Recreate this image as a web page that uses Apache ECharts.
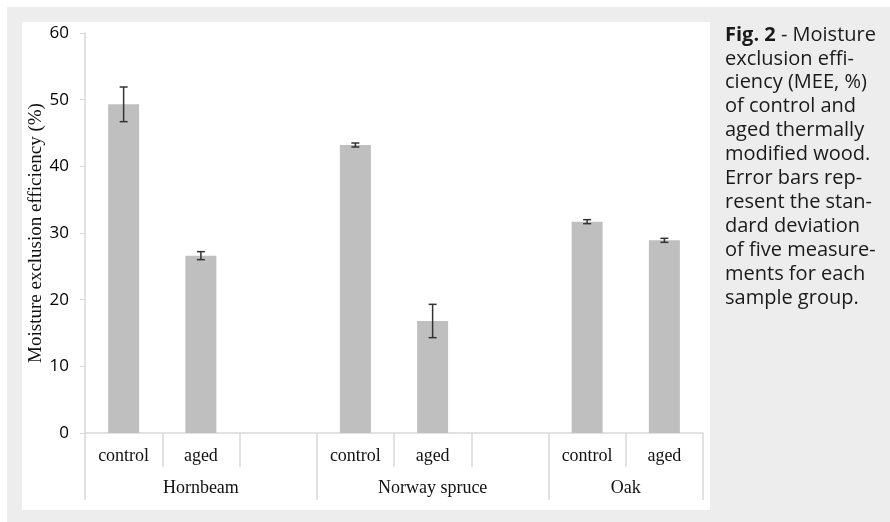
<!DOCTYPE html>
<html>
<head>
<meta charset="utf-8">
<script src="https://cdn.jsdelivr.net/npm/echarts@6/dist/echarts.min.js"></script>
<style>
  html, body { margin: 0; padding: 0; background: #fff; }
  #main { width: 890px; height: 522px; }
</style>
</head>
<body>
<div id="main"></div>
<script>
// data
var categories = ['control', 'aged', '', 'control', 'aged', '', 'control', 'aged'];
var groups = ['Hornbeam', 'Norway spruce', 'Oak'];
var groupCenters = [1.5, 4.5, 7];          // in slot units on the 0..8 axis
var groupBounds = [0, 3, 6, 8];
var mee = [49.3, 26.6, null, 43.2, 16.8, null, 31.7, 28.9];
var sd = [2.6, 0.6, null, 0.3, 2.5, null, 0.3, 0.3];
var yTicks = [0, 10, 20, 30, 40, 50, 60];

var captionLines = [
    '{b|Fig. 2} - Moisture',
    'exclusion effi-',
    'ciency (MEE, %)',
    'of control and',
    'aged thermally',
    'modified wood.',
    'Error bars rep-',
    'resent the stan-',
    'dard deviation',
    'of five measure-',
    'ments for each',
    'sample group.'
];

var errData = [];
mee.forEach(function (v, i) {
    if (v != null) errData.push([i, v - sd[i], v + sd[i]]);
});

var myChart = echarts.init(document.getElementById('main'));

myChart.setOption({
    backgroundColor: '#fff',
    animation: false,
    graphic: [
        { type: 'rect', z: -10, shape: { x: 7, y: 7, width: 883, height: 515 }, style: { fill: '#ededed' } },
        { type: 'rect', z: -9, shape: { x: 22, y: 22, width: 688, height: 488 }, style: { fill: '#fff' } },
        {
            type: 'text', left: 725, top: 23,
            style: {
                text: captionLines.join('\n'),
                font: '20px "Open Sans"',
                fill: '#1a1a1a',
                lineHeight: 23.9,
                rich: { b: { fontWeight: 'bold', fontSize: 20, fontFamily: 'Open Sans', lineHeight: 23.9 } }
            }
        }
    ],
    grid: { left: 85, right: 187, top: 33, bottom: 89 },
    xAxis: [{
        type: 'category',
        data: categories,
        boundaryGap: true,
        axisLine: { lineStyle: { color: '#d9d9d9', width: 1.5 } },
        axisTick: { show: true, alignWithLabel: false, interval: 0, length: 34, lineStyle: { color: '#d9d9d9', width: 1.5 } },
        axisLabel: { interval: 0, margin: 14, fontFamily: 'Liberation Serif', fontSize: 18, color: '#111' }
    }, {
        type: 'value',
        position: 'bottom',
        min: 0, max: 8,
        axisLine: { show: false },
        splitLine: { show: false },
        axisTick: { show: true, customValues: groupBounds, length: 67, lineStyle: { color: '#d9d9d9', width: 1.5 } },
        axisLabel: {
            customValues: groupCenters,
            margin: 46,
            fontFamily: 'Liberation Serif', fontSize: 18, color: '#111',
            formatter: function (v) { return groups[groupCenters.indexOf(v)]; }
        }
    }],
    yAxis: {
        type: 'value',
        min: yTicks[0], max: yTicks[yTicks.length - 1], interval: 10,
        name: 'Moisture exclusion efficiency (%)',
        nameLocation: 'middle',
        nameGap: 39,
        nameMoveOverlap: false,
        nameTextStyle: { fontFamily: 'Liberation Serif', fontSize: 19, color: '#111' },
        axisLine: { show: true, lineStyle: { color: '#d9d9d9', width: 1.5 } },
        axisTick: { show: true, length: 5, lineStyle: { color: '#d9d9d9' } },
        splitLine: { show: false },
        axisLabel: { margin: 16, fontFamily: 'Open Sans', fontSize: 17, color: '#000' }
    },
    series: [{
        type: 'bar',
        data: mee,
        barWidth: 31,
        itemStyle: { color: '#bfbfbf' }
    }, {
        type: 'custom',
        data: errData,
        z: 5,
        renderItem: function (params, api) {
            var x = api.value(0);
            var lo = api.coord([x, api.value(1)]);
            var hi = api.coord([x, api.value(2)]);
            var style = { stroke: '#333', lineWidth: 1.5 };
            return {
                type: 'group',
                children: [
                    { type: 'line', shape: { x1: lo[0], y1: lo[1], x2: hi[0], y2: hi[1] }, style: style },
                    { type: 'line', shape: { x1: lo[0] - 4, y1: lo[1], x2: lo[0] + 4, y2: lo[1] }, style: style },
                    { type: 'line', shape: { x1: hi[0] - 4, y1: hi[1], x2: hi[0] + 4, y2: hi[1] }, style: style }
                ]
            };
        }
    }]
});
</script>
</body>
</html>
